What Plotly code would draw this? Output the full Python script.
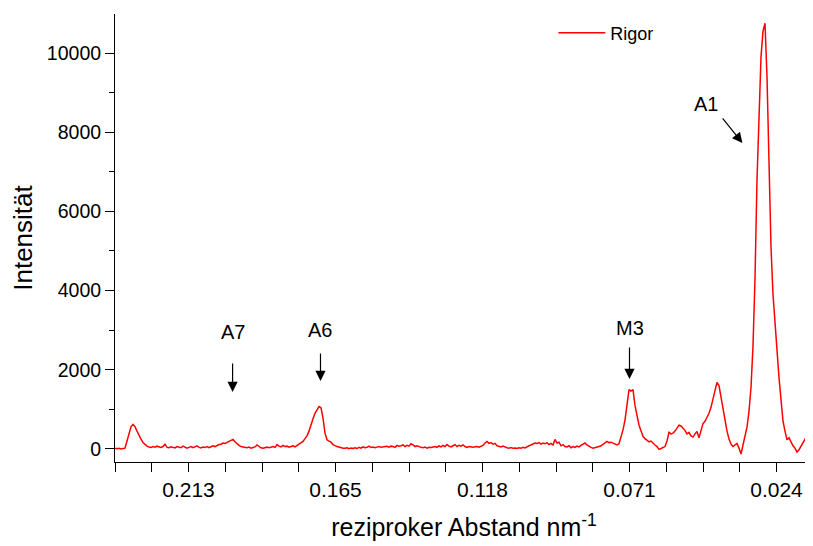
import numpy as np
import plotly.graph_objects as go

intensity = [
    20, 5, 15, 0, 10, 20,
    200, 390, 560, 620, 560, 450, 330, 250, 160, 110, 70,
    50, 40, 60, 45, 70, 50, 40, 60, 120, 40, 30, 55, 40, 25, 60, 50, 30, 70, 45, 20,
    40, 60, 30, 45, 80, 40, 25, 50, 35, 60, 30, 55, 80, 60, 90, 110,
    120, 150, 140, 170, 190, 230, 240, 180, 130, 90, 60,
    50, 40, 30, 45, 20, 35, 50, 100, 60, 30, 20, 40, 45, 30, 50, 60, 40, 110, 70, 50,
    90, 60, 70, 45, 60, 80, 50, 90, 110,
    150, 190, 260, 330, 450, 580, 760, 900, 1000, 1070, 1040, 780, 400, 230, 200,
    170, 110, 80, 60, 50, 30, 20, 15, 30, 5, 20, 10,
    30, 10, 40, 20, 55, 30, 40, 70, 35, 50, 30, 45, 60, 40, 55, 50, 65, 45, 70, 60,
    40, 90, 70, 80, 100, 60, 90, 70, 130, 100, 60, 80, 50, 40, 30, 45, 20, 40, 35, 50,
    60, 40, 75, 50, 90, 60, 110, 70, 50, 80, 110, 60, 90, 70, 100, 60, 40, 60,
    50, 40, 55, 60, 45, 70, 90, 150, 190, 140, 160, 120, 140, 80, 60, 50, 70, 40, 30, 20,
    35, 15, 25, 10, 30, 20, 40, 25, 60, 80, 100, 130, 150, 140, 160, 120, 150, 130, 160, 110,
    140, 100, 240, 150, 170, 80, 110, 60, 50, 80, 30, 60, 40, 70, 50, 90, 120, 150, 100, 60,
    40, 20, 30, 40, 60,
    80, 120, 170, 190, 160, 170, 145, 120, 100, 130,
    280, 480, 730, 1150, 1500, 1460, 1500, 1100, 840, 600,
    460, 320, 260, 230, 180, 200, 140, 100, 60, -10,
    10, 40, 60, 200, 420, 380, 400, 450, 540, 600,
    580, 520, 470, 380, 420, 330, 300, 380, 440, 280,
    450, 640, 700, 800, 900, 1050, 1240, 1500, 1680, 1600,
    1300, 1000, 700, 450, 250, 120, 60, 100, 140, 20,
    -130, 100, 300, 550, 950, 1550, 2600, 4300, 6800, 8700,
    9900, 10550, 10750, 9400, 7300, 5100, 3900, 3100, 2300, 1800,
    1250, 700, 450, 230, 280, 160, 80, 20, -80, -20,
    60, 150, 230, 330, 450, 560, 700,
]

x_left = 0.2365
x_right = 0.01333
recip = np.linspace(x_left, x_right, len(intensity))

x_tick_step = 0.01175
x_major_vals = [x_left - k * x_tick_step for k in (2, 6, 10, 14, 18)]
x_tick_labels = ["0.213", "0.165", "0.118", "0.071", "0.024"]
x_minor_vals = [x_left - k * x_tick_step for k in range(19) if k not in (2, 6, 10, 14, 18)]
y_tick_vals = [0, 2000, 4000, 6000, 8000, 10000]
y_tick_labels = ["0", "2000", "4000", "6000", "8000", "10000"]
y_minor_vals = [1000, 3000, 5000, 7000, 9000]

# peak labels: (label, x, text y, arrow tail y, arrow head y)
peak_labels = ["A7", "A6", "M3"]
peak_x = [0.1989, 0.1708, 0.0720]
peak_text_y = [2955, 3005, 3056]
peak_tail_y = [2197, 2450, 2600]
peak_head_y = [1440, 1717, 1768]

FONT = "Liberation Sans, Arial, sans-serif"
ARROW = dict(arrowhead=2, arrowsize=1.7, arrowwidth=1.2, arrowcolor="black")

fig = go.Figure()
fig.add_trace(go.Scatter(
    x=recip, y=intensity, mode="lines", name="Rigor",
    line=dict(color="#ff0000", width=1.5),
))

annotations = []
for lab, px, ty, tail, head in zip(peak_labels, peak_x, peak_text_y, peak_tail_y, peak_head_y):
    annotations.append(dict(x=px, y=ty, xref="x", yref="y", text=lab, showarrow=False,
                            font=dict(family=FONT, size=20, color="black")))
    annotations.append(dict(x=px, y=head, ax=px, ay=tail, xref="x", yref="y",
                            axref="x", ayref="y", text="", showarrow=True, **ARROW))
annotations.append(dict(x=0.0477, y=8712, xref="x", yref="y", text="A1", showarrow=False,
                        font=dict(family=FONT, size=20, color="black")))
annotations.append(dict(x=0.0359, y=7727, ax=0.0426, ay=8384, xref="x", yref="y",
                        axref="x", ayref="y", text="", showarrow=True, **ARROW))

# the page body adds an 8px offset, so the figure is 8px smaller and margins shifted
fig.update_layout(
    width=805, height=538,
    margin=dict(l=107, r=0, t=6, b=84),
    paper_bgcolor="white", plot_bgcolor="white",
    font=dict(family=FONT, color="black"),
    showlegend=True,
    legend=dict(x=0.628, y=0.999, xanchor="left", yanchor="top",
                bgcolor="rgba(0,0,0,0)", font=dict(family=FONT, size=18, color="black"),
                itemwidth=47),
    annotations=annotations,
    xaxis=dict(
        range=[x_left, x_right], showgrid=False, zeroline=False, automargin=False,
        showline=True, linecolor="black", linewidth=1,
        ticks="outside", ticklen=9, tickcolor="black", tickwidth=1,
        tickmode="array", tickvals=x_major_vals, ticktext=x_tick_labels,
        tickfont=dict(family=FONT, size=21, color="black"),
        minor=dict(tickvals=x_minor_vals, ticks="outside", ticklen=9, tickcolor="black"),
        title=dict(text="reziproker Abstand nm<sup>-1</sup>", standoff=18,
                   font=dict(family=FONT, size=25, color="black")),
    ),
    yaxis=dict(
        range=[-330, 10985], showgrid=False, zeroline=False, automargin=False,
        showline=True, linecolor="black", linewidth=1,
        ticks="outside", ticklen=9, tickcolor="black", tickwidth=1,
        tickmode="array", tickvals=y_tick_vals, ticktext=y_tick_labels,
        tickfont=dict(family=FONT, size=19.5, color="black"),
        minor=dict(tickvals=y_minor_vals, ticks="outside", ticklen=5, tickcolor="black"),
        title=dict(text="Intensität", standoff=20,
                   font=dict(family=FONT, size=26, color="black")),
    ),
)

fig.write_html("out.html")
